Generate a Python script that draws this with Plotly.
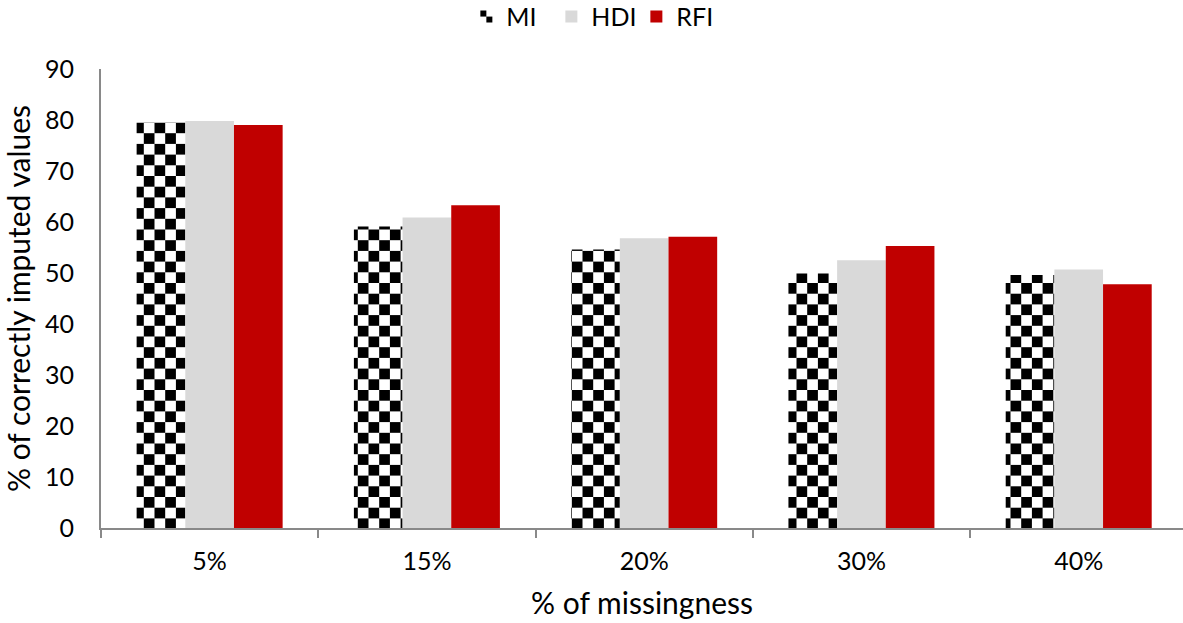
import plotly.graph_objects as go

# Share of correctly imputed values per missingness level and method
missingness = ["5%", "15%", "20%", "30%", "40%"]
mi_values = [79.5, 59.1, 54.6, 49.9, 49.6]
hdi_values = [79.8, 60.9, 56.8, 52.5, 50.7]
rfi_values = [79.0, 63.3, 57.1, 55.3, 47.8]

FONT = "Lato, 'Open Sans', sans-serif"
AXIS_GREY = "#898989"

fig = go.Figure()
fig.add_bar(name="MI", x=missingness, y=mi_values,
            marker=dict(color="#000000", line=dict(width=0)))
fig.add_bar(name="HDI", x=missingness, y=hdi_values,
            marker=dict(color="#D9D9D9", line=dict(width=0)))
fig.add_bar(name="RFI", x=missingness, y=rfi_values,
            marker=dict(color="#C00000", line=dict(width=0)))

fig.update_layout(
    width=1183, height=623, autosize=False,
    margin=dict(l=101, r=0, t=69, b=95),
    paper_bgcolor="white", plot_bgcolor="white",
    font=dict(family=FONT, size=25, color="#000000"),
    barmode="group", bargap=0.328, bargroupgap=0,
    hovermode=False,
    legend=dict(
        orientation="h", xref="container", yref="container",
        x=0.502, xanchor="center", y=0.973, yanchor="middle",
        font=dict(size=25), itemwidth=30, entrywidth=40,
    ),
    xaxis=dict(
        type="category", range=[-0.5, 4.48],
        showline=True, linecolor=AXIS_GREY, linewidth=2,
        ticks="outside", tickson="boundaries", ticklen=8,
        tickcolor=AXIS_GREY, tickwidth=2, ticklabelstandoff=10,
        tickfont=dict(size=25), showgrid=False, zeroline=False,
        title=dict(text="% of missingness", font=dict(size=30), standoff=19),
    ),
    yaxis=dict(
        range=[0, 90], dtick=10, tick0=0,
        showline=True, linecolor=AXIS_GREY, linewidth=2,
        ticks="", ticklabelstandoff=20,
        tickfont=dict(size=25), showgrid=False, zeroline=False,
        title=dict(text="% of correctly imputed values", font=dict(size=30), standoff=10),
    ),
)

# Fill the MI bars (and its legend swatch) with a black-and-white checkerboard
checker_js = """
(function(){
  var gd = document.getElementById('{plot_id}');
  var ns = 'http://www.w3.org/2000/svg';
  var s = 10.7;
  function ensurePattern(){
    if(document.getElementById('mi-checker')) return;
    var svg = gd.querySelector('svg.main-svg');
    if(!svg) return;
    var defs = svg.querySelector('defs');
    if(!defs){ defs = document.createElementNS(ns, 'defs'); svg.insertBefore(defs, svg.firstChild); }
    var p = document.createElementNS(ns, 'pattern');
    p.setAttribute('id', 'mi-checker');
    p.setAttribute('patternUnits', 'userSpaceOnUse');
    p.setAttribute('width', 2 * s);
    p.setAttribute('height', 2 * s);
    function rect(x, y, w, h, c){
      var r = document.createElementNS(ns, 'rect');
      r.setAttribute('x', x); r.setAttribute('y', y);
      r.setAttribute('width', w); r.setAttribute('height', h);
      r.setAttribute('fill', c);
      p.appendChild(r);
    }
    rect(0, 0, 2 * s, 2 * s, '#ffffff');
    rect(0, 0, s, s, '#000000');
    rect(s, s, s, s, '#000000');
    defs.appendChild(p);
  }
  function paint(){
    ensurePattern();
    var bars = gd.querySelectorAll('.barlayer .trace.bars');
    if(bars.length){
      bars[0].querySelectorAll('path').forEach(function(el){ el.style.fill = 'url(#mi-checker)'; });
    }
    var items = gd.querySelectorAll('.legend .traces');
    if(items.length){
      items[0].querySelectorAll('.legendpoints path').forEach(function(el){ el.style.fill = 'url(#mi-checker)'; });
    }
  }
  paint();
  if(gd.on) gd.on('plotly_afterplot', paint);
  setTimeout(paint, 50);
})();
"""

fig.write_html("out.html", post_script=checker_js, config={"displayModeBar": False})
